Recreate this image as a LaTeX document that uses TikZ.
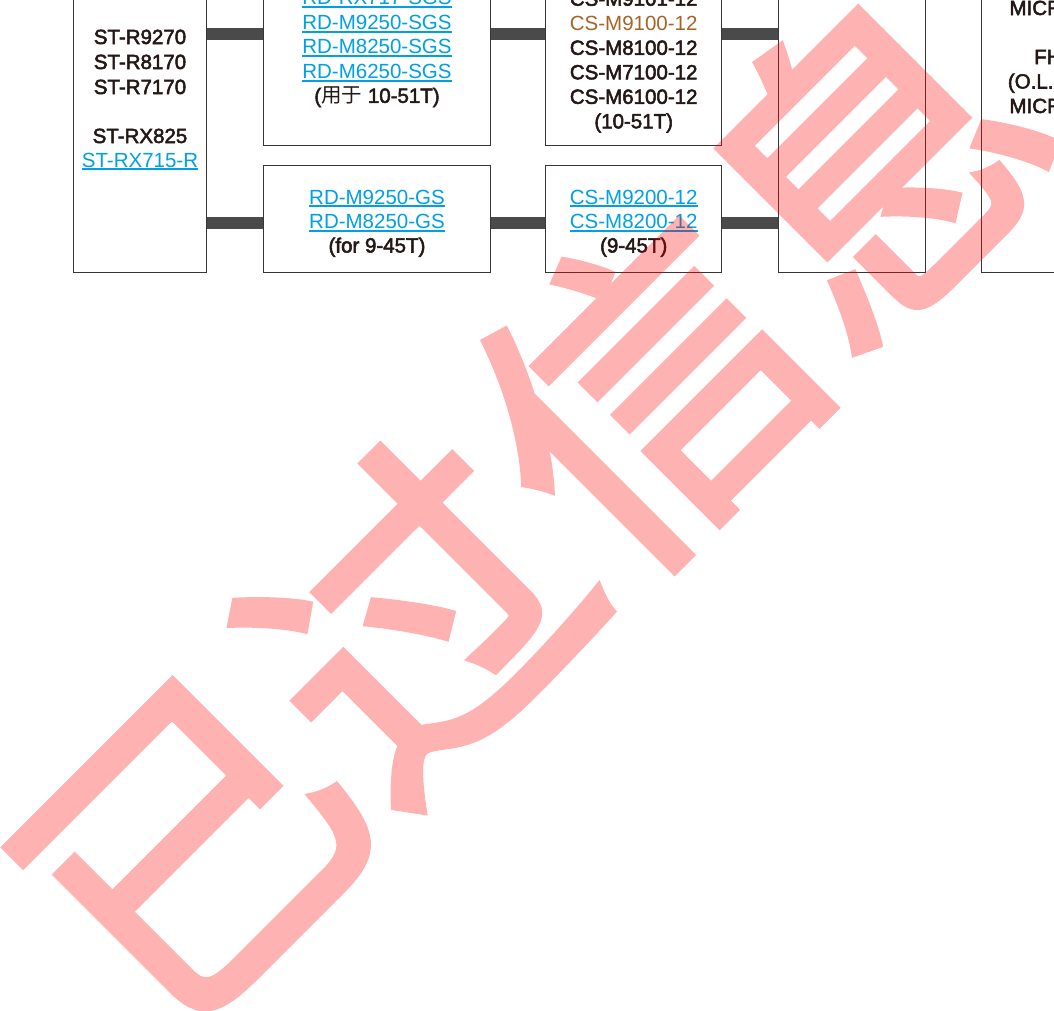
\documentclass[tikz,border=0pt]{standalone}
\usepackage{fontspec}
\setmainfont{Liberation Sans}
\newfontfamily\medf[FakeBold=2.5]{Liberation Sans}
\newfontfamily\cjk{Noto Sans CJK SC}
\newfontfamily\cjkw[FakeBold=2.5]{Noto Sans CJK SC}
\definecolor{lnkblue}{RGB}{0,160,228}
\definecolor{brn}{RGB}{165,100,38}
\definecolor{ink}{RGB}{35,24,21}
\definecolor{barc}{RGB}{74,74,74}
\definecolor{edge}{RGB}{60,52,52}
\newcommand\lnk[1]{{\color{lnkblue}\setbox0\hbox{#1}\rlap{\rule[-3.3pt]{\wd0}{1.9pt}}\box0}}
\tikzset{
  box/.style={draw=edge, line width=1pt, fill=white, inner sep=0, minimum width=#1},
  txt/.style={inner sep=0, anchor=base, text=ink, font=\fontsize{20.5}{24.5}\selectfont},
  tb/.style={inner sep=0, anchor=base, text=ink, font=\fontsize{20.5}{24.5}\medf},
  tl/.style={inner sep=0, anchor=base west, text=ink, font=\fontsize{20.5}{24.5}\medf},
  bar/.style={draw=barc, line width=12pt},
  wm/.style={rotate=45, text=red, inner sep=0, font=\cjkw\fontsize{322}{322}\selectfont}
}
\begin{document}
\begin{tikzpicture}[x=1pt, y=-1pt]
\useasboundingbox (0,0) rectangle (1054,1010);
\clip (0,0) rectangle (1054,1010);
\fill[white] (0,0) rectangle (1054,1010);
% boxes
\node[box=133.4pt, minimum height=292pt] (b1) at (140,126) {};
\node[box=227.4pt, minimum height=165.7pt] (b2a) at (377,62.85) {};
\node[box=227.4pt, minimum height=107.5pt] (b2b) at (377,218.75) {};
\node[box=176pt, minimum height=165.7pt] (b3a) at (633.7,62.85) {};
\node[box=176pt, minimum height=107.5pt] (b3b) at (633.7,218.75) {};
\node[box=146.7pt, minimum height=292pt] (b4) at (851.65,126) {};
\node[box=140pt, minimum height=292pt] (b5) at (1051.7,126) {};
% connectors
\coordinate (r1) at (0,33.5);
\coordinate (r2) at (0,223);
\draw[bar] (b1.east |- r1) -- (b2a.west |- r1);
\draw[bar] (b2a.east |- r1) -- (b3a.west |- r1);
\draw[bar] (b3a.east |- r1) -- (b4.west |- r1);
\draw[bar] (b1.east |- r2) -- (b2b.west |- r2);
\draw[bar] (b2b.east |- r2) -- (b3b.west |- r2);
\draw[bar] (b3b.east |- r2) -- (b4.west |- r2);
% box 1 text
\node[tb] (t1a) at (140,44) {ST-R9270};
\node[tb] (t1b) at (140,69) {ST-R8170};
\node[tb] (t1c) at (140,94) {ST-R7170};
\node[tb] (t1d) at (140,143) {ST-RX825};
\node[txt] (t1e) at (140,167) {\lnk{ST-RX715-R}};
% box 2a text
\node[txt] (t2a) at (377,4.8) {\lnk{RD-RX717-SGS}};
\node[txt] (t2b) at (377,29.3) {\lnk{RD-M9250-SGS}};
\node[txt] (t2c) at (377,53.8) {\lnk{RD-M8250-SGS}};
\node[txt] (t2d) at (377,78.3) {\lnk{RD-M6250-SGS}};
\node[tb] (t2e) at (377,102.8) {({\cjk 用于} 10-51T)};
% box 2b text
\node[txt] (t2f) at (377,204) {\lnk{RD-M9250-GS}};
\node[txt] (t2g) at (377,228.3) {\lnk{RD-M8250-GS}};
\node[tb] (t2h) at (377,252.5) {(for 9-45T)};
% box 3a text
\node[tb] (t3a) at (633.7,5.7) {CS-M9101-12};
\node[txt, text=brn] (t3b) at (633.7,30.3) {CS-M9100-12};
\node[tb] (t3c) at (633.7,54.8) {CS-M8100-12};
\node[tb] (t3d) at (633.7,79.3) {CS-M7100-12};
\node[tb] (t3e) at (633.7,103.8) {CS-M6100-12};
\node[tb] (t3f) at (633.7,128.3) {(10-51T)};
% box 3b text
\node[txt] (t3g) at (633.7,204) {\lnk{CS-M9200-12}};
\node[txt] (t3h) at (633.7,228.3) {\lnk{CS-M8200-12}};
\node[tb] (t3i) at (633.7,252.5) {(9-45T)};
% box 5 text
\node[tl] (t5a) at (1009.3,15) {MICROSPLINE};
\node[tl] (t5b) at (1034,64) {FH-M8110};
\node[tl] (t5c) at (1007.7,88.5) {(O.L.D.};
\node[tl] (t5d) at (1009.3,113) {MICROSPLINE};
% watermark
\begin{scope}[transparency group, opacity=0.3]
\node[wm] (wm) at (530,503) {已过信息};
\end{scope}
\end{tikzpicture}
\end{document}
